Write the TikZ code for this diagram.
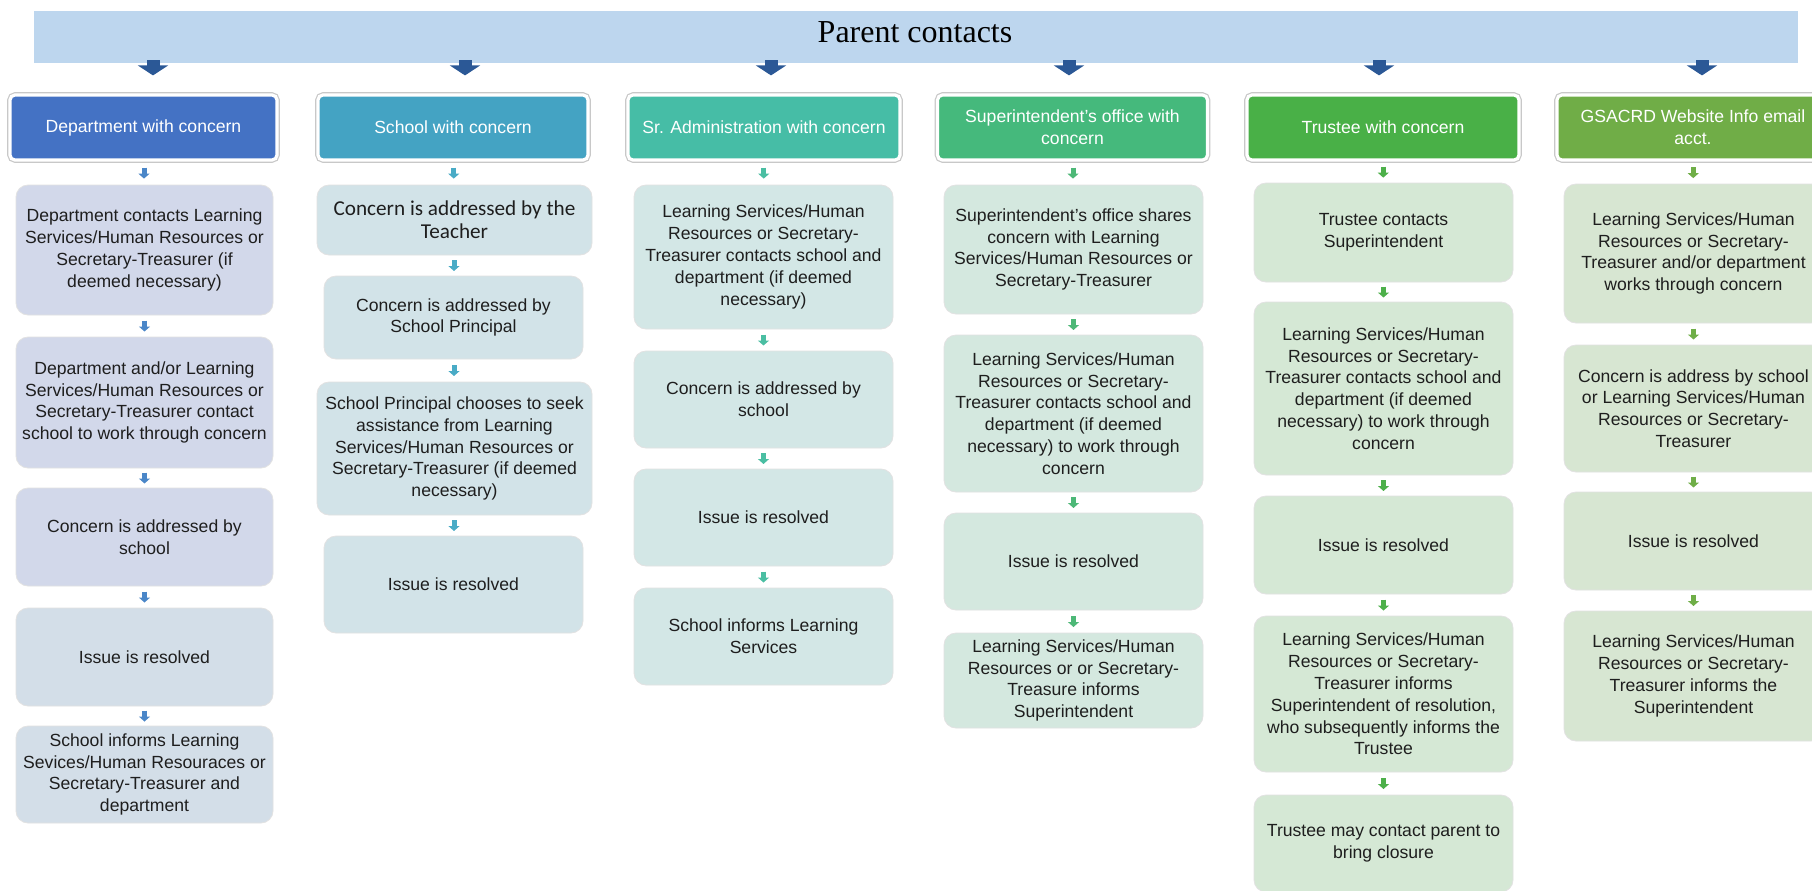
\documentclass[tikz,border=0pt]{standalone}
\usepackage{fontspec}
\setmainfont{Liberation Sans}
\newfontfamily\titlefont{Liberation Serif}
\newfontfamily\teacherfont{Carlito}
\usetikzlibrary{arrows.meta,calc}
\definecolor{bannerblue}{HTML}{BDD6EE}
\definecolor{bigblue}{HTML}{2B5896}
\definecolor{headline}{HTML}{C8C8C8}
\definecolor{boxline}{HTML}{E2E2E2}
\definecolor{textgray}{HTML}{1E1E1E}
\definecolor{depthead}{HTML}{4472C4}
\definecolor{deptfill}{HTML}{D2D8EA}
\definecolor{deptfillb}{HTML}{D3DEE8}
\definecolor{deptarrow}{HTML}{4A86C8}
\definecolor{schoolhead}{HTML}{44A3C3}
\definecolor{schoolfill}{HTML}{D2E3E8}
\definecolor{schoolarrow}{HTML}{49ABC6}
\definecolor{adminhead}{HTML}{46BDA6}
\definecolor{adminfill}{HTML}{D3E7E6}
\definecolor{adminarrow}{HTML}{4ABEA2}
\definecolor{supthead}{HTML}{45B97C}
\definecolor{suptfill}{HTML}{D4E8DF}
\definecolor{suptarrow}{HTML}{4DB877}
\definecolor{trusteehead}{HTML}{49B047}
\definecolor{trusteefill}{HTML}{D5E8D5}
\definecolor{trusteearrow}{HTML}{4DB04A}
\definecolor{webhead}{HTML}{70AD47}
\definecolor{webfill}{HTML}{D7E6D2}
\definecolor{webarrow}{HTML}{6FAE47}
\tikzset{
  box/.style={draw=boxline,line width=0.4pt,rounded corners=6pt,align=center,inner sep=2pt,
    minimum width=129.5pt,text=textgray,font=\fontsize{8.8}{10.9}\selectfont},
  head/.style={preaction={draw=headline,line width=2.8pt},draw=white,line width=1.6pt,rounded corners=2.5pt,
    align=center,inner sep=2pt,minimum width=135pt,minimum height=32.5pt,text=white,font=\fontsize{8.8}{10.9}\selectfont},
  deptbox/.style={box,fill=deptfill},
  schoolbox/.style={box,fill=schoolfill},
  adminbox/.style={box,fill=adminfill},
  suptbox/.style={box,fill=suptfill},
  trusteebox/.style={box,fill=trusteefill},
  webbox/.style={box,fill=webfill},
  bigflow/.style={draw=bigblue,line width=6.5pt,-{Triangle[width=15pt,length=5pt]},shorten <=-1.5pt,shorten >=9pt},
  smallflow/.style={line width=2.5pt,-{Triangle[width=5.5pt,length=2.5pt]},
    to path={($(\tikztostart)!.5!(\tikztotarget)+(0,5.5)$) -- ($(\tikztostart)!.5!(\tikztotarget)-(0,5.5)$)}}
}
\begin{document}
\begin{tikzpicture}[x=0.5pt,y=0.5pt]
  \useasboundingbox (0,0) rectangle (1812,-890);
  \fill[white] (0,0) rectangle (1812,-890);
  \node[fill=bannerblue,minimum width=882pt,minimum height=26pt,inner sep=0pt] (banner) at (916,-37) {};
  \node[anchor=base,font=\titlefont\fontsize{16}{18}\selectfont] (title) at (915,-42) {Parent contacts};
  % column headers
  \node[head,fill=depthead,minimum width=133.5pt] (dept) at (143.5,-127.5) {Department with concern};
  \node[head,fill=schoolhead] (school) at (453,-127.5) {School with concern};
  \node[head,fill=adminhead,minimum width=136pt] (sradmin) at (764,-127.5) {Sr. Administration with concern};
  \node[head,fill=supthead] (supt) at (1072.5,-127.5) {Superintendent's office with\\concern};
  \node[head,fill=trusteehead,minimum width=136pt] (trustee) at (1383,-127.5) {Trustee with concern};
  \node[head,fill=webhead,minimum width=136pt] (web) at (1693,-127.5) {GSACRD Website Info email\\acct.};
  % department
  \node[deptbox,minimum width=128.5pt,minimum height=65pt] (dept1) at (144.5,-250) {Department contacts Learning\\Services/Human Resources or\\Secretary-Treasurer (if\\deemed necessary)};
  \node[deptbox,minimum width=128.5pt,minimum height=65.5pt] (dept2) at (144.5,-402.5) {Department and/or Learning\\Services/Human Resources or\\Secretary-Treasurer contact\\school to work through concern};
  \node[deptbox,minimum width=128.5pt,minimum height=49pt] (dept3) at (144.5,-537) {Concern is addressed by\\school};
  \node[deptbox,fill=deptfillb,minimum width=128.5pt,minimum height=49pt] (dept4) at (144.5,-657) {Issue is resolved};
  \node[deptbox,fill=deptfillb,minimum width=128.5pt,minimum height=48.5pt] (dept5) at (144.5,-774.5) {School informs Learning\\Sevices/Human Resouraces or\\Secretary-Treasurer and\\department};
  % school
  \node[schoolbox,minimum width=137.5pt,minimum height=35pt,font=\teacherfont\fontsize{10.6}{11.3}\selectfont] (school1) at (454.5,-220) {Concern is addressed by the\\Teacher};
  \node[schoolbox,minimum height=41.5pt] (school2) at (453.5,-317.5) {Concern is addressed by\\School Principal};
  \node[schoolbox,minimum width=137.5pt,minimum height=66.5pt] (school3) at (454.5,-448.5) {School Principal chooses to seek\\assistance from Learning\\Services/Human Resources or\\Secretary-Treasurer (if deemed\\necessary)};
  \node[schoolbox,minimum height=48.5pt] (school4) at (453.5,-584.5) {Issue is resolved};
  % sr. administration
  \node[adminbox,minimum height=72pt] (sradmin1) at (763.5,-257) {Learning Services/Human\\Resources or Secretary-\\Treasurer contacts school and\\department (if deemed\\necessary)};
  \node[adminbox,minimum height=48.5pt] (sradmin2) at (763.5,-399.5) {Concern is addressed by\\school};
  \node[adminbox,minimum height=48.5pt] (sradmin3) at (763.5,-517.5) {Issue is resolved};
  \node[adminbox,minimum height=48.5pt] (sradmin4) at (763.5,-636.5) {School informs Learning\\Services};
  % superintendent's office
  \node[suptbox,minimum height=64.5pt] (supt1) at (1073.5,-249.5) {Superintendent's office shares\\concern with Learning\\Services/Human Resources or\\Secretary-Treasurer};
  \node[suptbox,minimum height=78.5pt] (supt2) at (1073.5,-413.5) {Learning Services/Human\\Resources or Secretary-\\Treasurer contacts school and\\department (if deemed\\necessary) to work through\\concern};
  \node[suptbox,minimum height=48.5pt] (supt3) at (1073.5,-561.5) {Issue is resolved};
  \node[suptbox,minimum height=47.5pt] (supt4) at (1073.5,-680.5) {Learning Services/Human\\Resources or or Secretary-\\Treasure informs\\Superintendent};
  % trustee
  \node[trusteebox,minimum height=49.5pt] (trustee1) at (1383.5,-232.5) {Trustee contacts\\Superintendent};
  \node[trusteebox,minimum height=86.5pt] (trustee2) at (1383.5,-388.5) {Learning Services/Human\\Resources or Secretary-\\Treasurer contacts school and\\department (if deemed\\necessary) to work through\\concern};
  \node[trusteebox,minimum height=49pt] (trustee3) at (1383.5,-545) {Issue is resolved};
  \node[trusteebox,minimum height=78pt] (trustee4) at (1383.5,-694) {Learning Services/Human\\Resources or Secretary-\\Treasurer informs\\Superintendent of resolution,\\who subsequently informs the\\Trustee};
  \node[trusteebox,minimum height=48.5pt] (trustee5) at (1383.5,-843.5) {Trustee may contact parent to\\bring closure};
  % website email
  \node[webbox,minimum height=69.5pt] (web1) at (1693.5,-253.5) {Learning Services/Human\\Resources or Secretary-\\Treasurer and/or department\\works through concern};
  \node[webbox,minimum height=63.5pt] (web2) at (1693.5,-408.5) {Concern is address by school\\or Learning Services/Human\\Resources or Secretary-\\Treasurer};
  \node[webbox,minimum height=49pt] (web3) at (1693.5,-541) {Issue is resolved};
  \node[webbox,minimum height=65pt] (web4) at (1693.5,-676) {Learning Services/Human\\Resources or Secretary-\\Treasurer informs the\\Superintendent};
  % arrows
  \foreach \h/\dx in {dept/9.5,school/12,sradmin/7,supt/-3.5,trustee/-4,web/9}
    \draw[bigflow] ($(banner.south -| \h.north)+(\dx,0)$) -- ($(\h.north)+(\dx,0)$);
  \foreach \a/\b in {dept/dept1,dept1/dept2,dept2/dept3,dept3/dept4,dept4/dept5}
    \draw[smallflow,draw=deptarrow] (\a.south) to (\b.north);
  \foreach \a/\b in {school/school1,school1/school2,school2/school3,school3/school4}
    \draw[smallflow,draw=schoolarrow] (\a.south) to (\b.north);
  \foreach \a/\b in {sradmin/sradmin1,sradmin1/sradmin2,sradmin2/sradmin3,sradmin3/sradmin4}
    \draw[smallflow,draw=adminarrow] (\a.south) to (\b.north);
  \foreach \a/\b in {supt/supt1,supt1/supt2,supt2/supt3,supt3/supt4}
    \draw[smallflow,draw=suptarrow] (\a.south) to (\b.north);
  \foreach \a/\b in {trustee/trustee1,trustee1/trustee2,trustee2/trustee3,trustee3/trustee4,trustee4/trustee5}
    \draw[smallflow,draw=trusteearrow] (\a.south) to (\b.north);
  \foreach \a/\b in {web/web1,web1/web2,web2/web3,web3/web4}
    \draw[smallflow,draw=webarrow] (\a.south) to (\b.north);
\end{tikzpicture}
\end{document}
